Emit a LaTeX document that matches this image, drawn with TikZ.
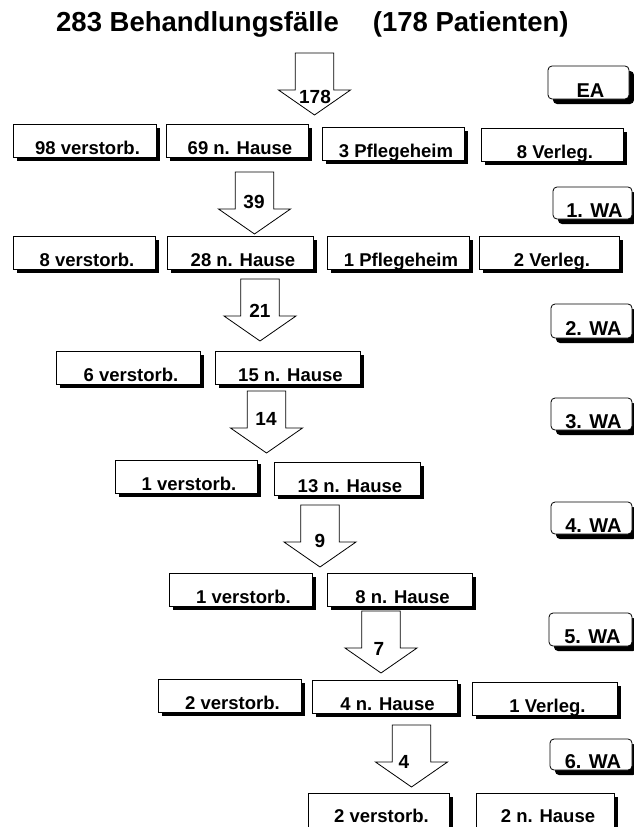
\documentclass[tikz,border=0pt]{standalone}
\usepackage{fontspec}
\setmainfont{Liberation Sans}
\usetikzlibrary{shadows}
\tikzset{
  boxbase/.style={draw, line width=0.8pt, fill=white, anchor=north west,
    inner xsep=0pt, inner ysep=0pt, outer sep=0pt},
  pbox/.style={boxbase, text height=30pt, text depth=3pt,
    font=\bfseries\fontsize{18.5}{20}\selectfont,
    execute at begin node={\hskip6pt},
    general shadow={fill=black, shadow xshift=4pt, shadow yshift=-4pt}},
  wabox/.style={boxbase, rounded corners=4pt, text height=31pt, text depth=2pt,
    font=\bfseries\fontsize{20}{22}\selectfont,
    execute at begin node={\hskip4pt},
    general shadow={fill=black, shadow xshift=5pt, shadow yshift=-5pt}},
  flowarr/.style={draw, line width=0.8pt, fill=white, line join=miter},
  alabel/.style={anchor=base, inner sep=0pt, font=\bfseries\fontsize{19}{21}\selectfont},
  titlefont/.style={anchor=base west, inner sep=0pt, font=\bfseries\fontsize{27.5}{30}\selectfont}
}
\newcommand\flowarrow[3]{%
  \coordinate (#1) at (#2,#3);
  \draw[flowarr, shift={(#1)}] (-19.25,0) -- (19.25,0) -- (19.25,37) -- (36,37)
    -- (0,62) -- (-36,37) -- (-19.25,37) -- cycle;}
\begin{document}
\begin{tikzpicture}[x=1pt,y=-1pt]
\useasboundingbox (0,0) rectangle (634,827);
\fill[white] (0,0) rectangle (634,827);

% title
\node[titlefont] (title) at (56,31) {283 Behandlungsfälle\hspace{34pt}(178 Patienten)};

% stage boxes
\node[wabox, minimum width=81pt] (ea) at (548,66) {EA};
\node[wabox, minimum width=79pt, text height=30pt] (wa1) at (553,187) {1. WA};
\node[wabox, minimum width=81pt, text depth=3pt] (wa2) at (551,304) {2. WA};
\node[wabox, minimum width=81pt, text height=30pt] (wa3) at (551,398) {3. WA};
\node[wabox, minimum width=81pt, text height=30pt] (wa4) at (551,502) {4. WA};
\node[wabox, minimum width=83pt, text height=30pt, text depth=3pt] (wa5) at (549,613) {5. WA};
\node[wabox, minimum width=82pt, text height=29pt] (wa6) at (550,739) {6. WA};

% arrows
\flowarrow{a1}{314.5}{53}
\flowarrow{a2}{254.5}{172}
\flowarrow{a3}{260}{279}
\flowarrow{a4}{266.5}{391}
\flowarrow{a5}{320}{505}
\flowarrow{a6}{381}{611}
\flowarrow{a7}{411.5}{725}

\node[alabel] (l1) at (315,103) {178};
\node[alabel] (l2) at (254,208) {39};
\node[alabel] (l3) at (260,317) {21};
\node[alabel] (l4) at (266,425) {14};
\node[alabel] (l5) at (320,547) {9};
\node[alabel] (l6) at (379,655) {7};
\node[alabel] (l7) at (404,768) {4};

% row 1
\node[pbox, minimum width=143pt] (b11) at (13,124) {98 verstorb.};
\node[pbox, minimum width=142pt] (b12) at (166,124) {69 n. Hause};
\node[pbox, minimum width=142pt] (b13) at (322,127) {3 Pflegeheim};
\node[pbox, minimum width=142pt] (b14) at (481,128) {8 Verleg.};
% row 2
\node[pbox, minimum width=142pt] (b21) at (13,236) {8 verstorb.};
\node[pbox, minimum width=146pt] (b22) at (167,236) {28 n. Hause};
\node[pbox, minimum width=142pt] (b23) at (327,236) {1 Pflegeheim};
\node[pbox, minimum width=140pt] (b24) at (479,236) {2 Verleg.};
% row 3
\node[pbox, minimum width=144pt] (b31) at (56,351) {6 verstorb.};
\node[pbox, minimum width=145pt] (b32) at (215,351) {15 n. Hause};
% row 4
\node[pbox, minimum width=142pt] (b41) at (115,460) {1 verstorb.};
\node[pbox, minimum width=146pt] (b42) at (274,462) {13 n. Hause};
% row 5
\node[pbox, minimum width=143pt] (b51) at (169,573) {1 verstorb.};
\node[pbox, minimum width=145pt] (b52) at (327,573) {8 n. Hause};
% row 6
\node[pbox, minimum width=143pt] (b61) at (158,679) {2 verstorb.};
\node[pbox, minimum width=145pt] (b62) at (312,680) {4 n. Hause};
\node[pbox, minimum width=145pt] (b63) at (472,682) {1 Verleg.};
% row 7
\node[pbox, minimum width=141pt, text height=29pt, text depth=6pt] (b71) at (308,793) {2 verstorb.};
\node[pbox, minimum width=138pt, text height=29pt, text depth=6pt] (b72) at (476,793) {2 n. Hause};
\end{tikzpicture}
\end{document}
